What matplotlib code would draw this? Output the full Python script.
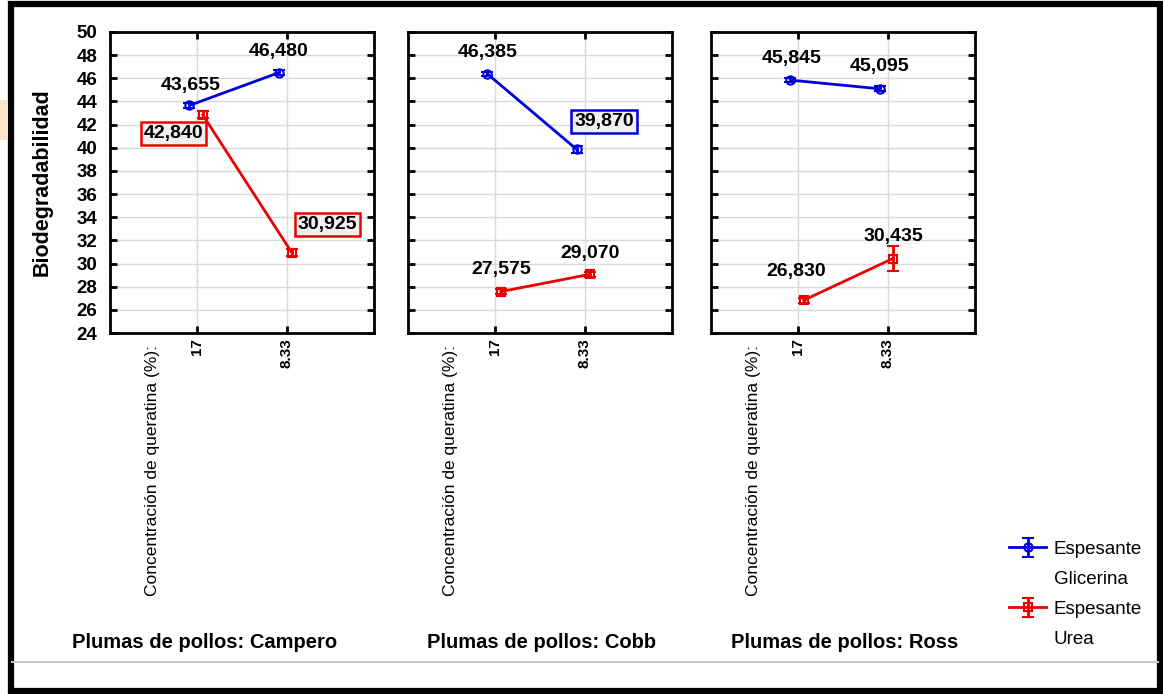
import numpy as np
import matplotlib
matplotlib.use('Agg')
import matplotlib.pyplot as plt
from matplotlib.lines import Line2D
from matplotlib.patches import Rectangle

plt.rcParams['font.family'] = ['Liberation Sans', 'DejaVu Sans']

# Data
panels = ['Plumas de pollos: Campero', 'Plumas de pollos: Cobb', 'Plumas de pollos: Ross']
concentraciones = ['17', '8.33']
glicerina = [[43.655, 46.480], [46.385, 39.870], [45.845, 45.095]]
urea = [[42.840, 30.925], [27.575, 29.070], [26.830, 30.435]]
glicerina_err = [[0.2, 0.2], [0.2, 0.3], [0.2, 0.2]]
urea_err = [[0.3, 0.3], [0.2, 0.2], [0.2, 1.1]]

# label positions (x, y) in data coords, and whether boxed
glic_lab = [[(0.92, 45.4, False), (1.91, 48.3, False)],
            [(0.91, 48.2, False), (2.22, 42.3, True)],
            [(0.92, 47.75, False), (1.91, 47.0, False)]]
urea_lab = [[(0.73, 41.2, True), (2.46, 33.4, True)],
            [(1.06, 29.45, False), (2.06, 30.9, False)],
            [(0.98, 29.3, False), (2.06, 32.3, False)]]

W, H = 1163, 694
fig = plt.figure(figsize=(W / 100, H / 100), dpi=100)

lefts = [110, 408, 711]
title_x = [205, 542, 845]
x = np.array([1, 2])

def fmt(v):
    return f'{v:.3f}'.replace('.', ',')

for i in range(3):
    ax = fig.add_axes([lefts[i] / W, 1 - 333 / H, 264 / W, 301 / H])
    ax.set_xlim(0.02, 2.98)
    ax.set_ylim(24, 50)
    ax.set_yticks(np.arange(24, 51, 2))
    ax.set_xticks(x)
    ax.set_xticklabels(concentraciones, rotation=90, fontsize=11, fontweight='bold', va='top')
    ax.grid(True, color='#d9d9d9', lw=1)
    ax.set_axisbelow(True)
    ax.tick_params(direction='in', length=5, width=2, top=True, right=True, pad=4)
    ax.tick_params(axis='y', pad=9)
    for s in ax.spines.values():
        s.set_linewidth(2)
    if i == 0:
        for lab in ax.get_yticklabels():
            lab.set_fontweight('bold')
            lab.set_fontsize(13.5)
        ax.set_ylabel('Biodegradabilidad', fontsize=15.5, fontweight='bold', labelpad=17)
    else:
        ax.set_yticklabels([])

    gb = ax.errorbar(x - 0.09, glicerina[i], yerr=glicerina_err[i], color='#0000dd', lw=2,
                     marker='o', ms=6, mfc='none', mew=1.5, capsize=4, capthick=1.5)
    rb = ax.errorbar(x + 0.06, urea[i], yerr=urea_err[i], color='#ee0000', lw=2,
                     marker='s', ms=6, mfc='none', mew=1.5, capsize=4, capthick=1.5)

    for vals, labs, col in [(glicerina[i], glic_lab[i], '#0000dd'), (urea[i], urea_lab[i], '#ee0000')]:
        for v, (tx, ty, boxed) in zip(vals, labs):
            kw = {}
            if boxed:
                kw['bbox'] = dict(boxstyle='square,pad=0.15', fc='#f0f0f0', ec=col, lw=1.8)
            ax.text(tx, ty, fmt(v), ha='center', va='center', fontsize=14,
                    fontweight='bold', **kw)

    # factor label at left of ticks
    ax.text(1 - 45 / 89, -0.04, 'Concentración de queratina (%):',
            transform=ax.get_xaxis_transform(), rotation=90, ha='center', va='top',
            fontsize=12.5)
    fig.text(title_x[i] / W, 1 - 643 / H, panels[i], ha='center', va='center',
             fontsize=14.5, fontweight='bold')

blank = Line2D([], [], color='none')
leg = fig.legend([gb, blank, rb, blank], ['Espesante', 'Glicerina', 'Espesante', 'Urea'],
                 loc='upper left', bbox_to_anchor=(992 / W, 1 - 524 / H), frameon=False,
                 fontsize=13.5, handlelength=2.0, handletextpad=0.4, labelspacing=0.68)

# separator line and frame
fig.add_artist(Line2D([12 / W, 1158 / W], [1 - 662 / H] * 2, color='#c8c8c8', lw=1.5))
fig.add_artist(Rectangle((11 / W, 3 / H), 1149 / W, 687 / H, fill=False, ec='black', lw=4.5,
                         transform=fig.transFigure))
fig.add_artist(Rectangle((0, 1 - 140 / H), 8 / W, 40 / H, fc='#fbe3cc', ec='none',
                         transform=fig.transFigure))

fig.savefig('out.png', dpi=100)
